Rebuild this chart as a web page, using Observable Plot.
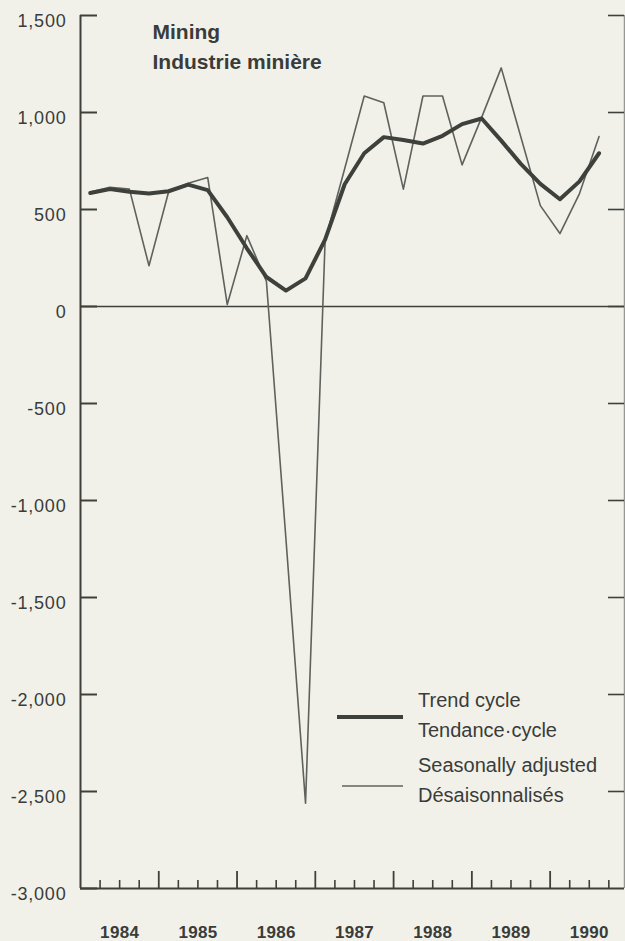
<!DOCTYPE html>
<html>
<head>
<meta charset="utf-8">
<script src="https://cdn.jsdelivr.net/npm/d3@7"></script>
<script src="https://cdn.jsdelivr.net/npm/@observablehq/plot@0.6"></script>
<style>
  html, body { margin: 0; padding: 0; background: #f1f1ea; }
  #chart { width: 625px; height: 941px; overflow: hidden; }
  [aria-label="y-axis tick label"] text { letter-spacing: 0.8px; }
  [aria-label="x-axis tick label"] text { letter-spacing: 0.3px; }
</style>
</head>
<body>
<div id="chart"></div>
<script>
// ---------- data ----------
const titleLines = ["Mining", "Industrie minière"];

const quarters = [
  "1984 Q1", "1984 Q2", "1984 Q3", "1984 Q4",
  "1985 Q1", "1985 Q2", "1985 Q3", "1985 Q4",
  "1986 Q1", "1986 Q2", "1986 Q3", "1986 Q4",
  "1987 Q1", "1987 Q2", "1987 Q3", "1987 Q4",
  "1988 Q1", "1988 Q2", "1988 Q3", "1988 Q4",
  "1989 Q1", "1989 Q2", "1989 Q3", "1989 Q4",
  "1990 Q1", "1990 Q2", "1990 Q3"
];

const trendCycle = [
  585, 605, 592, 583,
  594, 628, 600, 460,
  300, 152, 82, 145,
  345, 630, 790, 873,
  858, 840, 880, 940,
  969, 855, 735, 632,
  553, 645, 790
];

const seasonallyAdjusted = [
  590, 615, 605, 210,
  590, 635, 665, 10,
  365, 130, -1200, -2560,
  340, 710, 1085, 1050,
  605, 1085, 1085, 730,
  975, 1230, 875, 520,
  376, 582, 876
];

const yTicks = [1500, 1000, 500, 0, -500, -1000, -1500, -2000, -2500, -3000];
const yearLabels = [1984, 1985, 1986, 1987, 1988, 1989, 1990];
const legendLabels = [
  ["Trend cycle", "Tendance\u00b7cycle"],
  ["Seasonally adjusted", "Désaisonnalisés"]
];

const xDomain = [1984, 1990.95];
const yDomain = [-3000, 1500];

// ---------- styling ----------
const font = "'Liberation Sans', Arial, Helvetica, sans-serif";
const ink = "#3d403b";
const saInk = "#5f625c";
const textInk = "#3a3c39";

// ---------- derived table ----------
const toYear = q => { const [y, k] = q.split(" Q"); return +y + (+k - 0.5) / 4; };
const rows = quarters.map((q, i) => ({t: toYear(q), trend: trendCycle[i], sa: seasonallyAdjusted[i]}));
const quarterTicks = d3.range(1, 28).map(k => yearLabels[0] + k / 4);
const majorTicks = quarterTicks.filter(d => Number.isInteger(d));
const minorTicks = quarterTicks.filter(d => !Number.isInteger(d));

const W = 625, H = 941, mL = 80, mR = 1, mT = 15, mB = 53;
const innerW = W - mL - mR, innerH = H - mT - mB;

function legend() {
  const g = d3.create("svg:g")
    .attr("font-family", font).attr("font-size", 20).attr("fill", textInk)
    .attr("text-anchor", "start");
  const items = [
    {sw: 4, stroke: ink, x1: 337, x2: 403, ly: 717, ty: 707, labels: legendLabels[0]},
    {sw: 1.6, stroke: saInk, x1: 342, x2: 403, ly: 786, ty: 772, labels: legendLabels[1]}
  ];
  for (const it of items) {
    g.append("line").attr("x1", it.x1).attr("x2", it.x2).attr("y1", it.ly).attr("y2", it.ly)
      .attr("stroke", it.stroke).attr("stroke-width", it.sw);
    it.labels.forEach((s, j) => {
      g.append("text").attr("x", 418).attr("y", it.ty + j * 30).attr("text-anchor", "start").text(s);
    });
  }
  return g.node();
}

const chart = Plot.plot({
  width: W, height: H,
  marginLeft: mL, marginRight: mR, marginTop: mT, marginBottom: mB,
  style: {background: "transparent", fontFamily: font, color: textInk},
  x: {domain: xDomain, axis: null},
  y: {domain: yDomain, axis: null},
  marks: [
    // frame pieces
    Plot.ruleX([xDomain[0]], {stroke: ink, strokeWidth: 2}),
    Plot.ruleX([xDomain[1]], {stroke: ink, strokeWidth: 1.5, strokeOpacity: 0.5}),
    Plot.ruleY([yDomain[0]], {stroke: ink, strokeWidth: 2}),
    Plot.ruleY([0], {stroke: ink, strokeWidth: 1.6}),
    // y ticks (inward, both sides)
    Plot.tickY(yTicks, {y: d => d, stroke: ink, strokeWidth: 2, insetRight: innerW - 17}),
    Plot.tickY(yTicks.filter(d => d !== yDomain[0]), {y: d => d, stroke: ink, strokeWidth: 1.6, insetLeft: innerW - 16}),
    // x ticks (inward)
    Plot.tickX(minorTicks, {x: d => d, stroke: ink, strokeWidth: 1.6, insetTop: innerH - 8}),
    Plot.tickX(majorTicks, {x: d => d, stroke: ink, strokeWidth: 1.8, insetTop: innerH - 17}),
    // axes labels
    Plot.axisY(yTicks, {
      label: null, tickSize: 0, tickPadding: 14, dy: 6, fontSize: 18, fill: textInk,
      tickFormat: d => d.toLocaleString("en-US")
    }),
    Plot.axisX(yearLabels.map(d => d + 0.5), {
      label: null, tickSize: 0, tickPadding: 37, fontSize: 17, fontWeight: "bold", fill: textInk,
      tickFormat: d => String(Math.floor(d))
    }),
    // data
    Plot.line(rows, {x: "t", y: "sa", stroke: saInk, strokeWidth: 1.6}),
    Plot.line(rows, {x: "t", y: "trend", stroke: ink, strokeWidth: 4}),
    // title
    Plot.text([titleLines.join("\n")], {
      frameAnchor: "top-left", dx: 72, dy: 2, lineAnchor: "top", textAnchor: "start",
      fontSize: 21, fontWeight: "bold", lineHeight: 1.43, fill: textInk
    }),
    legend
  ]
});

document.getElementById("chart").append(chart);
</script>
</body>
</html>
